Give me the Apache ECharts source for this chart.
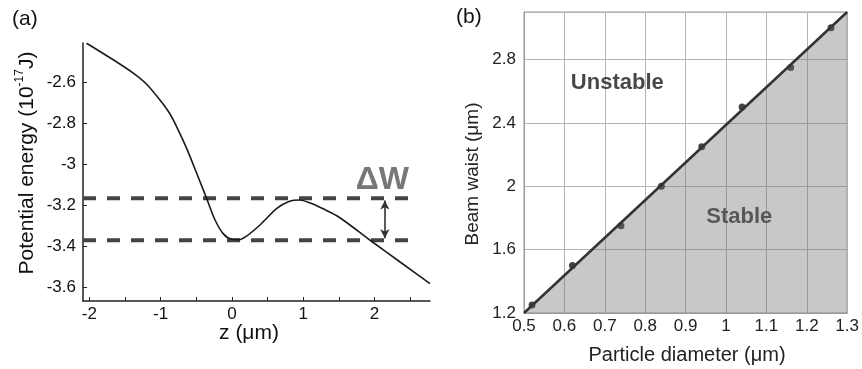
<!DOCTYPE html>
<html>
<head>
<meta charset="utf-8">
<script src="https://cdn.jsdelivr.net/npm/echarts@6/dist/echarts.min.js"></script>
<style>
  html, body { margin: 0; padding: 0; background: #fff; }
  #chart { width: 862px; height: 369px; }
</style>
</head>
<body>
<div id="chart"></div>
<script>
// (a) potential energy curve
const zValues = [-2.04, -1.66, -1.38, -1.2, -1.01, -0.88, -0.78, -0.64, -0.5, -0.355, -0.24, -0.12, 0.0, 0.1, 0.2, 0.39, 0.63, 0.8, 0.95, 1.1, 1.28, 1.51, 1.94, 2.36, 2.78]
const energyValues = [-2.411, -2.493, -2.558, -2.61, -2.688, -2.75, -2.815, -2.92, -3.04, -3.167, -3.27, -3.34, -3.366, -3.368, -3.352, -3.298, -3.216, -3.182, -3.175, -3.19, -3.218, -3.26, -3.371, -3.477, -3.582]
const zTicks = [-2, -1.5, -1, -0.5, 0, 0.5, 1, 1.5, 2, 2.5]
const zLabels = [-2, -1, 0, 1, 2]
const energyLabels = [-3.6, -3.4, -3.2, -3, -2.8, -2.6]
const barrierTop = -3.167
const wellBottom = -3.371
const dashRange = [-2.09, 2.595]
const arrowZ = 2.146
const deltaWPos = [2.11, -3.078]

// (b) stability diagram
const diameters = [0.52, 0.62, 0.74, 0.84, 0.94, 1.04, 1.16, 1.26]
const waists = [1.25, 1.5, 1.75, 2.0, 2.25, 2.5, 2.75, 3.0]
const boundaryX = [0.5, 1.3]
const boundaryY = [1.2, 3.1]
const unstablePos = [0.731, 2.652]
const stablePos = [1.033, 1.808]

const font = 'Liberation Sans, Arial, sans-serif'
const chart = echarts.init(document.getElementById('chart'), null, { renderer: 'canvas' })

function trimNum(v) {
  return String(+v.toFixed(2))
}

const option = {
  animation: false,
  textStyle: { fontFamily: font },
  grid: [
    { left: 83, top: 43, width: 347, height: 258 },
    { left: 524, top: 12, width: 325, height: 301, show: true, borderColor: '#999', borderWidth: 1, backgroundColor: 'transparent' }
  ],
  xAxis: [
    {
      gridIndex: 0, type: 'value', min: -2.09, max: 2.78,
      axisLine: { onZero: false, lineStyle: { color: '#222', width: 1.5 } },
      axisTick: { inside: true, length: 4, customValues: zTicks, lineStyle: { color: '#222' } },
      axisLabel: { customValues: zLabels, color: '#111', fontSize: 17, margin: 5, fontFamily: font, formatter: trimNum },
      splitLine: { show: false }
    },
    {
      gridIndex: 1, type: 'value', min: 0.5, max: 1.3, interval: 0.1,
      axisLine: { onZero: false, lineStyle: { color: '#999' } },
      axisTick: { show: false },
      axisLabel: { color: '#222', fontSize: 17, margin: 5, fontFamily: font, formatter: trimNum },
      splitLine: { lineStyle: { color: '#b4b4b4', width: 1 } }
    }
  ],
  yAxis: [
    {
      gridIndex: 0, type: 'value', min: -3.667, max: -2.41,
      axisLine: { show: true, onZero: false, lineStyle: { color: '#222', width: 1.5 } },
      axisTick: { show: true, inside: true, length: 4, customValues: energyLabels, lineStyle: { color: '#222' } },
      axisLabel: { customValues: energyLabels, color: '#111', fontSize: 17, margin: 7, fontFamily: font, formatter: trimNum },
      splitLine: { show: false }
    },
    {
      gridIndex: 1, type: 'value', min: 1.2, max: 3.1, interval: 0.4,
      axisLine: { show: true, onZero: false, lineStyle: { color: '#999' } },
      axisTick: { show: false },
      axisLabel: { color: '#222', fontSize: 17, margin: 8, fontFamily: font, formatter: trimNum, showMaxLabel: false },
      splitLine: { lineStyle: { color: '#b4b4b4', width: 1 } }
    }
  ],
  series: [
    {
      type: 'line', xAxisIndex: 0, yAxisIndex: 0,
      data: zValues.map((z, i) => [z, energyValues[i]]),
      smooth: 0.3, symbol: 'none',
      lineStyle: { color: '#1a1a1a', width: 1.6 }
    },
    {
      type: 'line', xAxisIndex: 0, yAxisIndex: 0, symbol: 'none', z: 1,
      data: dashRange.map(z => [z, barrierTop]),
      lineStyle: { color: '#444', width: 4, type: [13, 11] }
    },
    {
      type: 'line', xAxisIndex: 0, yAxisIndex: 0, symbol: 'none', z: 1,
      data: dashRange.map(z => [z, wellBottom]),
      lineStyle: { color: '#444', width: 4, type: [13, 11] },
      markLine: {
        silent: true,
        symbol: ['arrow', 'arrow'], symbolSize: [7, 9],
        lineStyle: { color: '#333', width: 1.6, type: 'solid' },
        label: { show: false },
        data: [[{ coord: [arrowZ, barrierTop - 0.01] }, { coord: [arrowZ, wellBottom + 0.01] }]]
      }
    },
    {
      type: 'scatter', xAxisIndex: 0, yAxisIndex: 0, symbolSize: 0,
      data: [deltaWPos],
      label: { show: true, position: 'inside', formatter: 'ΔW', fontSize: 32, fontWeight: 'bold', color: '#555', fontFamily: font }
    },
    {
      type: 'line', xAxisIndex: 1, yAxisIndex: 1, symbol: 'none',
      data: boundaryX.map((x, i) => [x, boundaryY[i]]),
      lineStyle: { color: '#333', width: 2.5 },
      areaStyle: { color: 'rgba(110,110,110,0.38)', opacity: 1, origin: 'start' }
    },
    {
      type: 'scatter', xAxisIndex: 1, yAxisIndex: 1,
      data: diameters.map((d, i) => [d, waists[i]]),
      symbolSize: 7, itemStyle: { color: '#444', opacity: 1 }
    },
    {
      type: 'scatter', xAxisIndex: 1, yAxisIndex: 1, symbolSize: 0,
      data: [
        { value: unstablePos, name: 'Unstable' },
        { value: stablePos, name: 'Stable' }
      ],
      label: { show: true, position: 'inside', formatter: '{b}', fontSize: 22, fontWeight: 'bold', color: '#1a1a1a', fontFamily: font }
    }
  ],
  graphic: [
    { type: 'text', left: 12, top: 9, style: { text: '(a)', fontSize: 21, fill: '#111', fontFamily: font } },
    { type: 'text', left: 456, top: 7, style: { text: '(b)', fontSize: 21, fill: '#111', fontFamily: font } },
    {
      type: 'text', x: 26, y: 163, rotation: Math.PI / 2,
      style: {
        text: '{b|Potential energy (10}{s|-17}{b|J)}',
        align: 'center', verticalAlign: 'middle', fill: '#111', fontFamily: font,
        rich: {
          b: { fontSize: 21, lineHeight: 24, verticalAlign: 'bottom', fontFamily: font, fill: '#111' },
          s: { fontSize: 12, lineHeight: 24, verticalAlign: 'top', fontFamily: font, fill: '#111' }
        }
      }
    },
    { type: 'text', x: 249, y: 333, style: { text: 'z (μm)', fontSize: 21, fill: '#111', align: 'center', verticalAlign: 'middle', fontFamily: font } },
    { type: 'text', x: 473, y: 174, rotation: Math.PI / 2, style: { text: 'Beam waist (μm)', fontSize: 19, fill: '#222', align: 'center', verticalAlign: 'middle', fontFamily: font } },
    { type: 'text', x: 687, y: 355, style: { text: 'Particle diameter (μm)', fontSize: 20, fill: '#222', align: 'center', verticalAlign: 'middle', fontFamily: font } }
  ]
}

chart.setOption(option)
</script>
</body>
</html>
